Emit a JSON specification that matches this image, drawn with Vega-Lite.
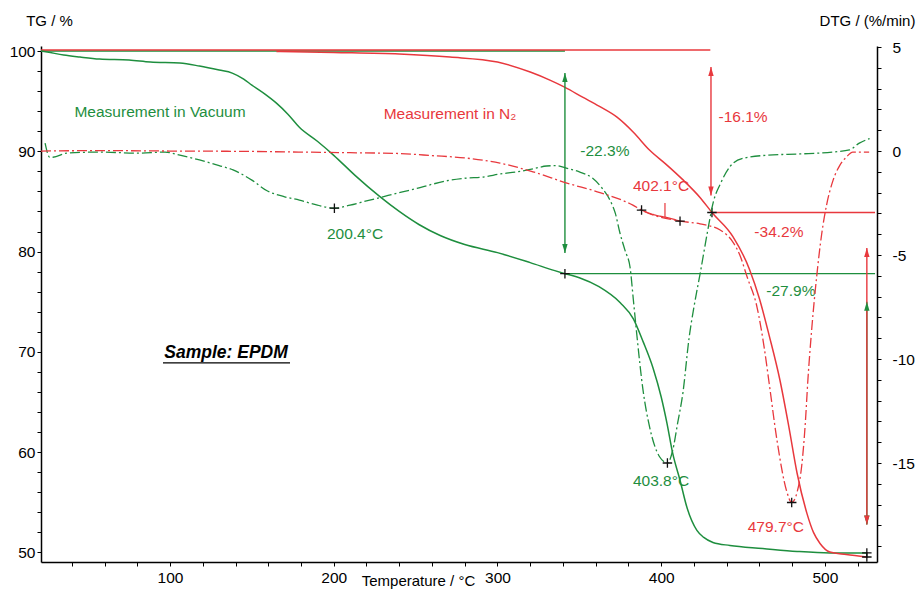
{
  "$schema": "https://vega.github.io/schema/vega-lite/v6.json",
  "width": 836,
  "height": 516,
  "autosize": {"type": "none"},
  "padding": {"left": 41, "top": 46, "right": 43, "bottom": 27},
  "background": "white",
  "config": {
    "view": {"stroke": null},
    "font": "Liberation Sans",
    "axis": {
      "grid": false,
      "domainColor": "black",
      "domainWidth": 1.5,
      "tickColor": "black",
      "tickWidth": 1,
      "tickSize": 4,
      "labelFontSize": 15.5,
      "labelColor": "black",
      "labelFont": "Liberation Sans",
      "titleFont": "Liberation Sans",
      "titleFontSize": 15,
      "titleFontWeight": "normal",
      "titleColor": "black",
      "labelFlush": false,
      "labelOverlap": false
    }
  },
  "datasets": {
    "tg": [
      {"series": "vacuum", "T": 21.2, "TG": 100},
      {"series": "vacuum", "T": 25, "TG": 99.9},
      {"series": "vacuum", "T": 35, "TG": 99.6},
      {"series": "vacuum", "T": 45, "TG": 99.4},
      {"series": "vacuum", "T": 57, "TG": 99.2},
      {"series": "vacuum", "T": 75, "TG": 99.1},
      {"series": "vacuum", "T": 88, "TG": 98.9},
      {"series": "vacuum", "T": 106, "TG": 98.8},
      {"series": "vacuum", "T": 118, "TG": 98.5},
      {"series": "vacuum", "T": 130, "TG": 98.1},
      {"series": "vacuum", "T": 138, "TG": 97.8},
      {"series": "vacuum", "T": 145, "TG": 97.2},
      {"series": "vacuum", "T": 150, "TG": 96.6},
      {"series": "vacuum", "T": 158, "TG": 95.7},
      {"series": "vacuum", "T": 165, "TG": 94.8},
      {"series": "vacuum", "T": 172, "TG": 93.7},
      {"series": "vacuum", "T": 179, "TG": 92.4},
      {"series": "vacuum", "T": 190, "TG": 91.0},
      {"series": "vacuum", "T": 200, "TG": 89.6},
      {"series": "vacuum", "T": 213, "TG": 87.6},
      {"series": "vacuum", "T": 228, "TG": 85.5},
      {"series": "vacuum", "T": 240, "TG": 84.0},
      {"series": "vacuum", "T": 252, "TG": 82.7},
      {"series": "vacuum", "T": 265, "TG": 81.6},
      {"series": "vacuum", "T": 280, "TG": 80.7},
      {"series": "vacuum", "T": 300, "TG": 79.9},
      {"series": "vacuum", "T": 320, "TG": 78.9},
      {"series": "vacuum", "T": 335, "TG": 78.1},
      {"series": "vacuum", "T": 341.2, "TG": 77.8},
      {"series": "vacuum", "T": 350, "TG": 77.4},
      {"series": "vacuum", "T": 362, "TG": 76.5},
      {"series": "vacuum", "T": 375, "TG": 74.9},
      {"series": "vacuum", "T": 383, "TG": 73.3},
      {"series": "vacuum", "T": 389, "TG": 71.0},
      {"series": "vacuum", "T": 395, "TG": 68.4},
      {"series": "vacuum", "T": 400, "TG": 65.5},
      {"series": "vacuum", "T": 403.5, "TG": 62.9},
      {"series": "vacuum", "T": 407, "TG": 59.9},
      {"series": "vacuum", "T": 411.5, "TG": 57.2},
      {"series": "vacuum", "T": 415.7, "TG": 54.5},
      {"series": "vacuum", "T": 421.8, "TG": 52.2},
      {"series": "vacuum", "T": 426, "TG": 51.5},
      {"series": "vacuum", "T": 431.6, "TG": 51.0},
      {"series": "vacuum", "T": 442, "TG": 50.7},
      {"series": "vacuum", "T": 462, "TG": 50.4},
      {"series": "vacuum", "T": 483, "TG": 50.1},
      {"series": "vacuum", "T": 503, "TG": 49.95},
      {"series": "vacuum", "T": 525.6, "TG": 49.95},
      {"series": "N2", "T": 165, "TG": 99.95},
      {"series": "N2", "T": 200, "TG": 99.85},
      {"series": "N2", "T": 240, "TG": 99.7},
      {"series": "N2", "T": 271, "TG": 99.4},
      {"series": "N2", "T": 300, "TG": 98.9},
      {"series": "N2", "T": 320, "TG": 97.9},
      {"series": "N2", "T": 332, "TG": 97.1},
      {"series": "N2", "T": 341, "TG": 96.4},
      {"series": "N2", "T": 352, "TG": 95.4},
      {"series": "N2", "T": 362, "TG": 94.5},
      {"series": "N2", "T": 373, "TG": 93.4},
      {"series": "N2", "T": 383, "TG": 91.9},
      {"series": "N2", "T": 393, "TG": 90.1},
      {"series": "N2", "T": 403, "TG": 88.7},
      {"series": "N2", "T": 413, "TG": 87.2},
      {"series": "N2", "T": 423.7, "TG": 85.4},
      {"series": "N2", "T": 431, "TG": 83.9},
      {"series": "N2", "T": 443.8, "TG": 81.5},
      {"series": "N2", "T": 454, "TG": 78.2},
      {"series": "N2", "T": 460, "TG": 75.3},
      {"series": "N2", "T": 466, "TG": 71.6},
      {"series": "N2", "T": 472.5, "TG": 67.2},
      {"series": "N2", "T": 478, "TG": 62.5},
      {"series": "N2", "T": 483, "TG": 57.9},
      {"series": "N2", "T": 489, "TG": 53.9},
      {"series": "N2", "T": 493, "TG": 52.0},
      {"series": "N2", "T": 497, "TG": 50.9},
      {"series": "N2", "T": 503, "TG": 50.05},
      {"series": "N2", "T": 513, "TG": 49.8},
      {"series": "N2", "T": 525.6, "TG": 49.55}
    ],
    "dtg": [
      {"series": "vacuum", "style": "dashdot", "T": 23.7, "DTG": 0.38},
      {"series": "vacuum", "style": "dashdot", "T": 26.5, "DTG": -0.3},
      {"series": "vacuum", "style": "dashdot", "T": 28.5, "DTG": -0.3},
      {"series": "vacuum", "style": "dashdot", "T": 37, "DTG": -0.1},
      {"series": "vacuum", "style": "dashdot", "T": 57, "DTG": -0.05},
      {"series": "vacuum", "style": "dashdot", "T": 80, "DTG": -0.1},
      {"series": "vacuum", "style": "dashdot", "T": 97, "DTG": -0.05},
      {"series": "vacuum", "style": "dashdot", "T": 106, "DTG": -0.2},
      {"series": "vacuum", "style": "dashdot", "T": 118, "DTG": -0.43},
      {"series": "vacuum", "style": "dashdot", "T": 130, "DTG": -0.7},
      {"series": "vacuum", "style": "dashdot", "T": 138.5, "DTG": -0.91},
      {"series": "vacuum", "style": "dashdot", "T": 150, "DTG": -1.4},
      {"series": "vacuum", "style": "dashdot", "T": 159, "DTG": -1.9},
      {"series": "vacuum", "style": "dashdot", "T": 170, "DTG": -2.2},
      {"series": "vacuum", "style": "dashdot", "T": 179, "DTG": -2.36},
      {"series": "vacuum", "style": "dashdot", "T": 190, "DTG": -2.6},
      {"series": "vacuum", "style": "dashdot", "T": 200.4, "DTG": -2.75},
      {"series": "vacuum", "style": "dashdot", "T": 210, "DTG": -2.6},
      {"series": "vacuum", "style": "dashdot", "T": 220, "DTG": -2.4},
      {"series": "vacuum", "style": "dashdot", "T": 230, "DTG": -2.2},
      {"series": "vacuum", "style": "dashdot", "T": 240, "DTG": -2.0},
      {"series": "vacuum", "style": "dashdot", "T": 250.8, "DTG": -1.8},
      {"series": "vacuum", "style": "dashdot", "T": 260, "DTG": -1.6},
      {"series": "vacuum", "style": "dashdot", "T": 271, "DTG": -1.4},
      {"series": "vacuum", "style": "dashdot", "T": 281, "DTG": -1.3},
      {"series": "vacuum", "style": "dashdot", "T": 291, "DTG": -1.25},
      {"series": "vacuum", "style": "dashdot", "T": 302, "DTG": -1.1},
      {"series": "vacuum", "style": "dashdot", "T": 312, "DTG": -1.0},
      {"series": "vacuum", "style": "dashdot", "T": 322, "DTG": -0.85},
      {"series": "vacuum", "style": "dashdot", "T": 330, "DTG": -0.72},
      {"series": "vacuum", "style": "dashdot", "T": 336, "DTG": -0.7},
      {"series": "vacuum", "style": "dashdot", "T": 342, "DTG": -0.82},
      {"series": "vacuum", "style": "dashdot", "T": 350, "DTG": -1.0},
      {"series": "vacuum", "style": "dashdot", "T": 358, "DTG": -1.3},
      {"series": "vacuum", "style": "dashdot", "T": 364, "DTG": -1.8},
      {"series": "vacuum", "style": "dashdot", "T": 368.7, "DTG": -2.36},
      {"series": "vacuum", "style": "dashdot", "T": 372, "DTG": -3.0},
      {"series": "vacuum", "style": "dashdot", "T": 374.8, "DTG": -3.94},
      {"series": "vacuum", "style": "dashdot", "T": 378, "DTG": -4.8},
      {"series": "vacuum", "style": "dashdot", "T": 381, "DTG": -5.6},
      {"series": "vacuum", "style": "dashdot", "T": 383, "DTG": -7.16},
      {"series": "vacuum", "style": "dashdot", "T": 385, "DTG": -8.75},
      {"series": "vacuum", "style": "dashdot", "T": 388.9, "DTG": -11.5},
      {"series": "vacuum", "style": "dashdot", "T": 393, "DTG": -13.3},
      {"series": "vacuum", "style": "dashdot", "T": 399, "DTG": -14.7},
      {"series": "vacuum", "style": "dashdot", "T": 403.8, "DTG": -15.0},
      {"series": "vacuum", "style": "dashdot", "T": 407, "DTG": -14.4},
      {"series": "vacuum", "style": "dashdot", "T": 410, "DTG": -13.1},
      {"series": "vacuum", "style": "dashdot", "T": 413.3, "DTG": -11.6},
      {"series": "vacuum", "style": "dashdot", "T": 417, "DTG": -9.0},
      {"series": "vacuum", "style": "dashdot", "T": 420, "DTG": -7.5},
      {"series": "vacuum", "style": "dashdot", "T": 424, "DTG": -5.8},
      {"series": "vacuum", "style": "dashdot", "T": 428, "DTG": -4.0},
      {"series": "vacuum", "style": "dashdot", "T": 432, "DTG": -2.4},
      {"series": "vacuum", "style": "dashdot", "T": 436, "DTG": -1.6},
      {"series": "vacuum", "style": "dashdot", "T": 442, "DTG": -0.75},
      {"series": "vacuum", "style": "dashdot", "T": 450, "DTG": -0.35},
      {"series": "vacuum", "style": "dashdot", "T": 465, "DTG": -0.2},
      {"series": "vacuum", "style": "dashdot", "T": 485, "DTG": -0.14},
      {"series": "vacuum", "style": "dashdot", "T": 505, "DTG": -0.05},
      {"series": "vacuum", "style": "dashdot", "T": 515, "DTG": 0.05},
      {"series": "vacuum", "style": "dashdot", "T": 521, "DTG": 0.38},
      {"series": "vacuum", "style": "dashdot", "T": 527.3, "DTG": 0.6},
      {"series": "N2", "style": "dashdot", "T": 21.2, "DTG": 0.0},
      {"series": "N2", "style": "dashdot", "T": 60, "DTG": 0.02},
      {"series": "N2", "style": "dashdot", "T": 100, "DTG": 0.0},
      {"series": "N2", "style": "dashdot", "T": 150, "DTG": -0.02},
      {"series": "N2", "style": "dashdot", "T": 179, "DTG": -0.05},
      {"series": "N2", "style": "dashdot", "T": 210, "DTG": -0.08},
      {"series": "N2", "style": "dashdot", "T": 240, "DTG": -0.12},
      {"series": "N2", "style": "dashdot", "T": 260, "DTG": -0.22},
      {"series": "N2", "style": "dashdot", "T": 281, "DTG": -0.34},
      {"series": "N2", "style": "dashdot", "T": 301.5, "DTG": -0.58},
      {"series": "N2", "style": "dashdot", "T": 321.7, "DTG": -1.0},
      {"series": "N2", "style": "dashdot", "T": 342.4, "DTG": -1.54},
      {"series": "N2", "style": "dashdot", "T": 362.6, "DTG": -2.0},
      {"series": "N2", "style": "dashdot", "T": 382.7, "DTG": -2.6},
      {"series": "N2", "style": "dashdot", "T": 388, "DTG": -2.84},
      {"series": "N2", "style": "solid", "T": 388, "DTG": -2.84},
      {"series": "N2", "style": "solid", "T": 395, "DTG": -3.05},
      {"series": "N2", "style": "solid", "T": 403.5, "DTG": -3.2},
      {"series": "N2", "style": "solid", "T": 411.5, "DTG": -3.37},
      {"series": "N2", "style": "dashdot", "T": 411.5, "DTG": -3.37},
      {"series": "N2", "style": "dashdot", "T": 423.7, "DTG": -3.5},
      {"series": "N2", "style": "dashdot", "T": 436, "DTG": -3.8},
      {"series": "N2", "style": "dashdot", "T": 444, "DTG": -4.4},
      {"series": "N2", "style": "dashdot", "T": 448, "DTG": -5.0},
      {"series": "N2", "style": "dashdot", "T": 452.5, "DTG": -6.06},
      {"series": "N2", "style": "dashdot", "T": 458.5, "DTG": -7.5},
      {"series": "N2", "style": "dashdot", "T": 463, "DTG": -9.5},
      {"series": "N2", "style": "dashdot", "T": 466, "DTG": -11.2},
      {"series": "N2", "style": "dashdot", "T": 470.7, "DTG": -13.9},
      {"series": "N2", "style": "dashdot", "T": 476.8, "DTG": -16.4},
      {"series": "N2", "style": "dashdot", "T": 479.7, "DTG": -16.9},
      {"series": "N2", "style": "dashdot", "T": 483, "DTG": -16.4},
      {"series": "N2", "style": "dashdot", "T": 486, "DTG": -15.0},
      {"series": "N2", "style": "dashdot", "T": 488, "DTG": -13.1},
      {"series": "N2", "style": "dashdot", "T": 489.6, "DTG": -11.0},
      {"series": "N2", "style": "dashdot", "T": 492, "DTG": -8.5},
      {"series": "N2", "style": "dashdot", "T": 495, "DTG": -6.0},
      {"series": "N2", "style": "dashdot", "T": 498, "DTG": -4.0},
      {"series": "N2", "style": "dashdot", "T": 501, "DTG": -2.6},
      {"series": "N2", "style": "dashdot", "T": 505, "DTG": -1.4},
      {"series": "N2", "style": "dashdot", "T": 509, "DTG": -0.7},
      {"series": "N2", "style": "dashdot", "T": 513, "DTG": -0.3},
      {"series": "N2", "style": "dashdot", "T": 517, "DTG": -0.05},
      {"series": "N2", "style": "dashdot", "T": 527, "DTG": -0.05}
    ],
    "hlines": [
      {"series": "vacuum", "T1": 21.2, "T2": 341.2, "TG": 100.0},
      {"series": "N2", "T1": 21.2, "T2": 430, "TG": 100.1},
      {"series": "vacuum", "T1": 341.2, "T2": 530.6, "TG": 77.8},
      {"series": "N2", "T1": 431, "T2": 530.6, "TG": 83.9},
      {"series": "sample", "T1": 95.7, "T2": 173.3, "TG": 68.9}
    ],
    "arrows": [
      {"series": "vacuum", "T": 341.2, "TG1": 97.8, "TG2": 79.86},
      {"series": "N2", "T": 430.4, "TG1": 98.4, "TG2": 85.6},
      {"series": "vacuum", "T": 525.6, "TG1": 75.0, "TG2": 52.8},
      {"series": "N2", "T": 525.6, "TG1": 80.36, "TG2": 52.8}
    ],
    "heads": [
      {"series": "vacuum", "T": 341.2, "TG": 97.8, "dir": "up"},
      {"series": "vacuum", "T": 341.2, "TG": 79.86, "dir": "down"},
      {"series": "N2", "T": 430.4, "TG": 98.4, "dir": "up"},
      {"series": "N2", "T": 430.4, "TG": 85.6, "dir": "down"},
      {"series": "vacuum", "T": 525.6, "TG": 75.0, "dir": "up"},
      {"series": "vacuum", "T": 525.6, "TG": 52.8, "dir": "down"},
      {"series": "N2", "T": 525.6, "TG": 80.36, "dir": "up"},
      {"series": "N2", "T": 525.6, "TG": 52.8, "dir": "down"}
    ],
    "labels": [
      {"series": "vacuum", "T": 93.9, "TG": 93.9, "text": "Measurement in Vacuum"},
      {"series": "N2", "T": 271, "TG": 93.7, "text": "Measurement in N₂"},
      {"series": "vacuum", "T": 365.6, "TG": 90.0, "text": "-22.3%"},
      {"series": "N2", "T": 450, "TG": 93.4, "text": "-16.1%"},
      {"series": "N2", "T": 471.9, "TG": 81.95, "text": "-34.2%"},
      {"series": "vacuum", "T": 479.2, "TG": 76.07, "text": "-27.9%"},
      {"series": "vacuum", "T": 213, "TG": 81.75, "text": "200.4°C"},
      {"series": "N2", "T": 399.9, "TG": 86.5, "text": "402.1°C"},
      {"series": "vacuum", "T": 399.9, "TG": 57.1, "text": "403.8°C"},
      {"series": "N2", "T": 470, "TG": 52.5, "text": "479.7°C"}
    ],
    "sample": [
      {"series": "sample", "T": 134.2, "TG": 69.9, "text": "Sample: EPDM"}
    ],
    "crossTG": [
      {"T": 341.2, "TG": 77.8},
      {"T": 431, "TG": 83.9},
      {"T": 525.6, "TG": 49.95},
      {"T": 525.6, "TG": 49.55}
    ],
    "crossDTG": [
      {"T": 200.4, "DTG": -2.75},
      {"T": 403.8, "DTG": -15.0},
      {"T": 388, "DTG": -2.84},
      {"T": 411.5, "DTG": -3.37},
      {"T": 479.7, "DTG": -16.9}
    ],
    "dtgTick": [
      {"series": "N2", "T": 402.3, "DTG1": -2.5, "DTG2": -3.2}
    ]
  },
  "layer": [
    {
      "layer": [
        {
          "data": {"name": "hlines"},
          "mark": {"type": "rule", "strokeWidth": 1.4},
          "encoding": {
            "x": {"field": "T1", "type": "quantitative", "title": "Temperature / °C", "scale": {"domain": [21.2, 531.8], "nice": false, "zero": false},
              "axis": {
                "values": [40,60,80,100,120,140,160,180,200,220,240,260,280,300,320,340,360,380,400,420,440,460,480,500,520],
                "tickCount": 1000,
                "labelExpr": "datum.value % 100 === 0 ? '' + datum.value : ''",
                "labelOverlap": false,
                "labelPadding": 4,
                "title": "Temperature / °C",
                "titleX": 377,
                "titleY": 23,
                "titleAlign": "center",
                "titleBaseline": "alphabetic",
                "titleAnchor": "start"
              }},
            "x2": {"field": "T2"},
            "y": {"field": "TG", "type": "quantitative", "title": "TG / %", "scale": {"domain": [49.05, 100.5], "nice": false, "zero": false},
              "axis": {
                "orient": "left",
                "values": [50,52,54,56,58,60,62,64,66,68,70,72,74,76,78,80,82,84,86,88,90,92,94,96,98,100],
                "tickCount": 1000,
                "labelExpr": "datum.value % 10 === 0 ? '' + datum.value : ''",
                "labelOverlap": false,
                "labelPadding": 2,
                "title": "TG / %",
                "titleAngle": 0,
                "titleX": 8,
                "titleY": -21,
                "titleAlign": "center",
                "titleBaseline": "alphabetic",
                "titleAnchor": "start"
              }},
            "color": {"field": "series", "type": "nominal", "scale": {"domain": ["vacuum", "N2", "sample"], "range": ["#1e8e3e", "#e8383d", "#000000"]}, "legend": null}
          }
        },
        {
          "data": {"name": "tg"},
          "mark": {"type": "line", "strokeWidth": 1.5, "interpolate": "monotone"},
          "encoding": {
            "x": {"field": "T", "type": "quantitative", "title": "Temperature / °C", "scale": {"domain": [21.2, 531.8], "nice": false, "zero": false}},
            "y": {"field": "TG", "type": "quantitative", "title": "TG / %", "scale": {"domain": [49.05, 100.5], "nice": false, "zero": false}},
            "color": {"field": "series", "type": "nominal", "legend": null}
          }
        },
        {
          "data": {"name": "arrows"},
          "mark": {"type": "rule", "strokeWidth": 1.4},
          "encoding": {
            "x": {"field": "T", "type": "quantitative", "title": "Temperature / °C", "scale": {"domain": [21.2, 531.8], "nice": false, "zero": false}},
            "y": {"field": "TG1", "type": "quantitative", "title": "TG / %", "scale": {"domain": [49.05, 100.5], "nice": false, "zero": false}},
            "y2": {"field": "TG2"},
            "color": {"field": "series", "type": "nominal", "legend": null}
          }
        },
        {
          "data": {"name": "heads"},
          "mark": {"type": "point", "filled": true, "opacity": 1, "size": 324},
          "encoding": {
            "x": {"field": "T", "type": "quantitative", "title": "Temperature / °C", "scale": {"domain": [21.2, 531.8], "nice": false, "zero": false}},
            "y": {"field": "TG", "type": "quantitative", "title": "TG / %", "scale": {"domain": [49.05, 100.5], "nice": false, "zero": false}},
            "shape": {"field": "dir", "type": "nominal", "scale": {"domain": ["up", "down"], "range": ["M0,0L-0.3,1L0.3,1Z", "M0,0L-0.3,-1L0.3,-1Z"]}, "legend": null},
            "color": {"field": "series", "type": "nominal", "legend": null}
          }
        },
        {
          "data": {"name": "crossTG"},
          "mark": {"type": "point", "filled": false, "opacity": 1, "size": 90, "shape": "M-1,0L1,0M0,-1L0,1", "stroke": "#111111", "strokeWidth": 1.3},
          "encoding": {
            "x": {"field": "T", "type": "quantitative", "title": "Temperature / °C", "scale": {"domain": [21.2, 531.8], "nice": false, "zero": false}},
            "y": {"field": "TG", "type": "quantitative", "title": "TG / %", "scale": {"domain": [49.05, 100.5], "nice": false, "zero": false}}
          }
        },
        {
          "data": {"name": "labels"},
          "mark": {"type": "text", "fontSize": 15.5, "font": "Liberation Sans", "align": "center", "baseline": "middle"},
          "encoding": {
            "x": {"field": "T", "type": "quantitative", "title": "Temperature / °C", "scale": {"domain": [21.2, 531.8], "nice": false, "zero": false}},
            "y": {"field": "TG", "type": "quantitative", "title": "TG / %", "scale": {"domain": [49.05, 100.5], "nice": false, "zero": false}},
            "text": {"field": "text"},
            "color": {"field": "series", "type": "nominal", "legend": null}
          }
        },
        {
          "data": {"name": "sample"},
          "mark": {"type": "text", "fontSize": 17.5, "font": "Liberation Sans", "fontWeight": "bold", "fontStyle": "italic", "align": "center", "baseline": "middle"},
          "encoding": {
            "x": {"field": "T", "type": "quantitative", "title": "Temperature / °C", "scale": {"domain": [21.2, 531.8], "nice": false, "zero": false}},
            "y": {"field": "TG", "type": "quantitative", "title": "TG / %", "scale": {"domain": [49.05, 100.5], "nice": false, "zero": false}},
            "text": {"field": "text"},
            "color": {"field": "series", "type": "nominal", "legend": null}
          }
        }
      ]
    },
    {
      "layer": [
        {
          "data": {"name": "dtg"},
          "mark": {"type": "line", "strokeWidth": 1.3, "interpolate": "monotone"},
          "encoding": {
            "x": {"field": "T", "type": "quantitative", "title": "Temperature / °C", "scale": {"domain": [21.2, 531.8], "nice": false, "zero": false}},
            "y": {"field": "DTG", "type": "quantitative", "title": "DTG / (%/min)", "scale": {"domain": [-19.76, 5.05], "nice": false, "zero": false},
              "axis": {
                "orient": "right",
                "values": [-19,-18,-17,-16,-15,-14,-13,-12,-11,-10,-9,-8,-7,-6,-5,-4,-3,-2,-1,0,1,2,3,4,5],
                "tickCount": 1000,
                "labelExpr": "datum.value % 5 === 0 ? '' + datum.value : ''",
                "labelOverlap": false,
                "labelPadding": 11,
                "title": "DTG / (%/min)",
                "titleAngle": 0,
                "titleX": -10,
                "titleY": -21,
                "titleAlign": "center",
                "titleBaseline": "alphabetic",
                "titleAnchor": "start"
              }},
            "color": {"field": "series", "type": "nominal", "legend": null},
            "strokeDash": {"field": "style", "type": "nominal", "scale": {"domain": ["dashdot", "solid"], "range": [[10, 3, 2, 3], [1, 0]]}, "legend": null}
          }
        },
        {
          "data": {"name": "dtgTick"},
          "mark": {"type": "rule", "strokeWidth": 1.2},
          "encoding": {
            "x": {"field": "T", "type": "quantitative", "title": "Temperature / °C", "scale": {"domain": [21.2, 531.8], "nice": false, "zero": false}},
            "y": {"field": "DTG1", "type": "quantitative", "title": "DTG / (%/min)", "scale": {"domain": [-19.76, 5.05], "nice": false, "zero": false}},
            "y2": {"field": "DTG2"},
            "color": {"field": "series", "type": "nominal", "legend": null}
          }
        },
        {
          "data": {"name": "crossDTG"},
          "mark": {"type": "point", "filled": false, "opacity": 1, "size": 90, "shape": "M-1,0L1,0M0,-1L0,1", "stroke": "#111111", "strokeWidth": 1.3},
          "encoding": {
            "x": {"field": "T", "type": "quantitative", "title": "Temperature / °C", "scale": {"domain": [21.2, 531.8], "nice": false, "zero": false}},
            "y": {"field": "DTG", "type": "quantitative", "title": "DTG / (%/min)", "scale": {"domain": [-19.76, 5.05], "nice": false, "zero": false}}
          }
        }
      ]
    }
  ],
  "resolve": {"scale": {"y": "independent"}, "axis": {"y": "independent"}}
}
